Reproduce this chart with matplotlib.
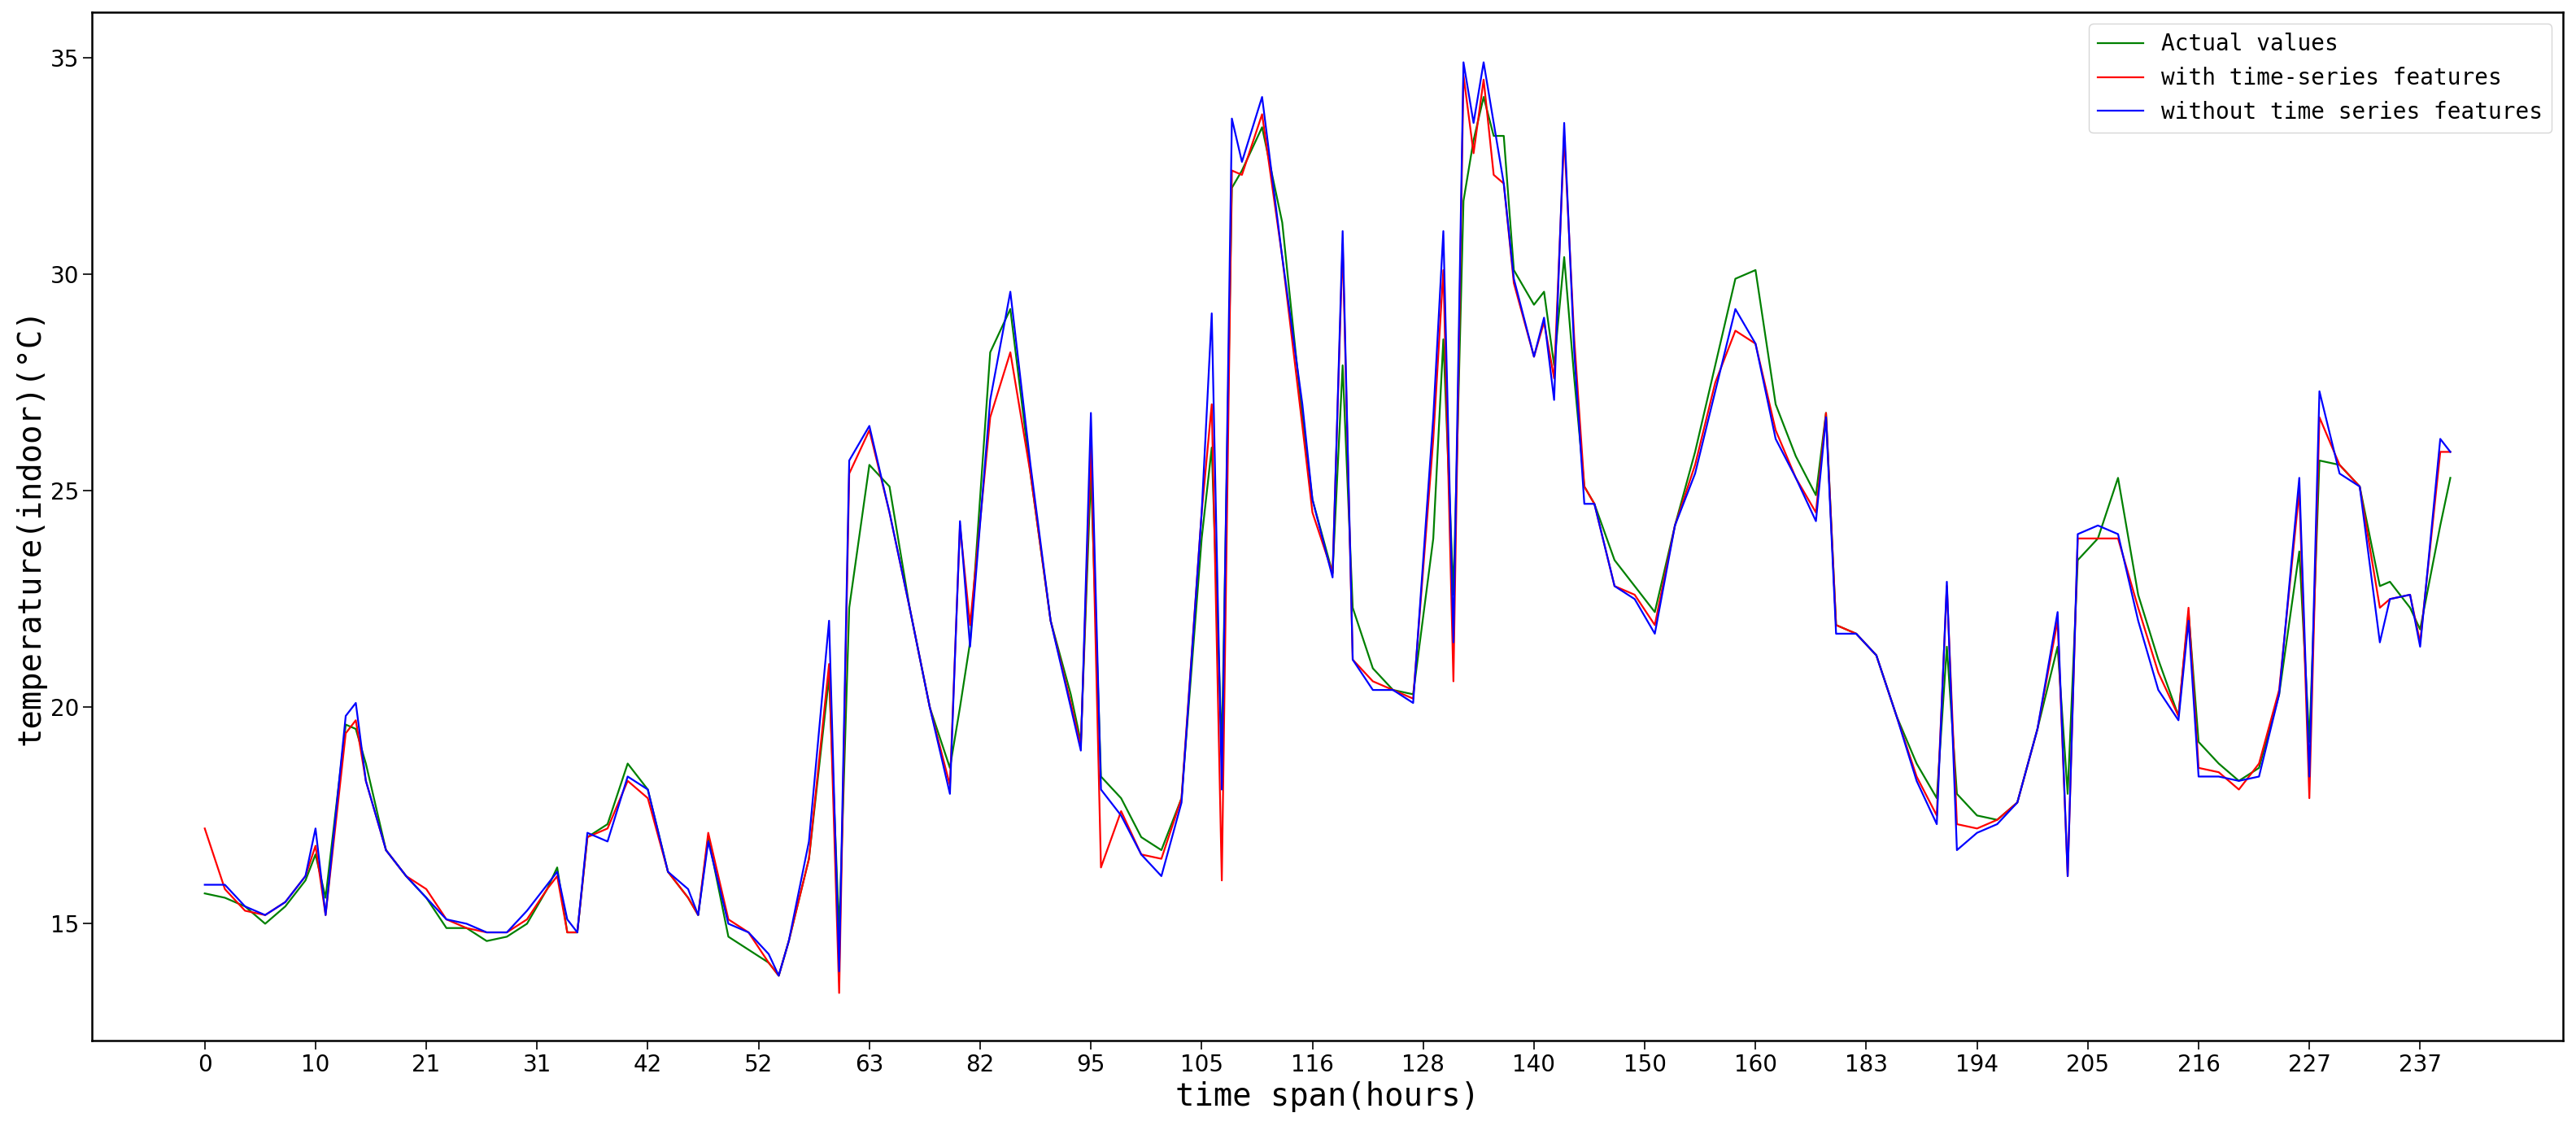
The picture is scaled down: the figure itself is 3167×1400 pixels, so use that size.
import matplotlib
matplotlib.use("Agg")
import matplotlib.pyplot as plt

# sample index (hour step) and temperatures
step = [0, 2, 4, 6, 8, 10, 11, 12, 14, 15, 16, 18, 20, 22, 24, 26, 28, 30, 32, 34, 35, 36, 37, 38, 40,
        42, 44, 46, 48, 49, 50, 52, 54, 56, 57, 58, 60, 62, 63, 64, 66, 68, 70, 72, 74, 75, 76, 78, 80,
        82, 84, 86, 87, 88, 89, 91, 93, 95, 97, 99, 100, 101, 102, 103, 105, 107, 109, 110, 112, 113,
        114, 116, 118, 120, 122, 123, 124, 125, 126, 127, 128, 129, 130, 132, 133, 134, 135, 136, 137,
        138, 140, 142, 144, 146, 148, 150, 152, 154, 156, 158, 160, 161, 162, 164, 166, 168, 170, 172,
        173, 174, 176, 178, 180, 182, 184, 185, 186, 188, 190, 192, 194, 196, 197, 198, 200, 202, 204,
        206, 208, 209, 210, 212, 214, 216, 217, 219, 220, 222, 223]

actual = [15.7, 15.6, 15.4, 15.0, 15.4, 16.0, 16.6, 15.6, 19.6, 19.5, 18.7, 16.7, 16.1, 15.6, 14.9, 14.9,
          14.6, 14.7, 15.0, 15.8, 16.3, 14.8, 14.8, 17.0, 17.3, 18.7, 18.1, 16.2, 15.6, 15.2, 17.0, 14.7,
          14.4, 14.1, 13.8, 14.6, 16.5, 20.7, 14.8, 22.3, 25.6, 25.1, 22.3, 20.0, 18.6, 20.0, 21.5, 28.2,
          29.2, 25.4, 22.0, 20.3, 19.2, 25.4, 18.4, 17.9, 17.0, 16.7, 17.9, 23.9, 26.0, 19.0, 32.0, 32.4,
          33.4, 31.2, 26.7, 24.8, 23.1, 27.9, 22.3, 20.9, 20.4, 20.3, 23.9, 28.5, 22.6, 31.7, 33.1, 34.1,
          33.2, 33.2, 30.1, 29.3, 29.6, 27.9, 30.4, 27.6, 25.1, 24.7, 23.4, 22.8, 22.2, 24.2, 25.9, 27.9,
          29.9, 30.1, 27.0, 25.8, 24.9, 26.8, 21.9, 21.7, 21.2, 19.8, 18.7, 17.9, 21.4, 18.0, 17.5, 17.4,
          17.8, 19.5, 21.4, 18.0, 23.4, 23.9, 25.3, 22.6, 21.1, 19.8, 22.2, 19.2, 18.7, 18.3, 18.6, 20.3,
          23.6, 19.2, 25.7, 25.6, 25.1, 22.8, 22.9, 22.3, 21.8, 24.2, 25.3]

with_ts = [17.2, 15.8, 15.3, 15.2, 15.5, 16.1, 16.8, 15.2, 19.4, 19.7, 18.3, 16.7, 16.1, 15.8, 15.1, 14.9,
           14.8, 14.8, 15.1, 15.8, 16.1, 14.8, 14.8, 17.0, 17.2, 18.3, 17.9, 16.2, 15.6, 15.2, 17.1, 15.1,
           14.8, 14.1, 13.8, 14.6, 16.5, 21.0, 13.4, 25.4, 26.4, 24.5, 22.3, 20.0, 18.2, 24.2, 21.9, 26.7,
           28.2, 25.4, 22.0, 20.1, 19.1, 26.1, 16.3, 17.6, 16.6, 16.5, 17.9, 24.5, 27.0, 16.0, 32.4, 32.3,
           33.7, 30.4, 26.5, 24.5, 23.1, 30.7, 21.1, 20.6, 20.4, 20.2, 26.2, 30.1, 20.6, 34.6, 32.8, 34.5,
           32.3, 32.1, 29.8, 28.1, 28.9, 27.6, 33.2, 28.5, 25.1, 24.7, 22.8, 22.6, 21.9, 24.2, 25.6, 27.5,
           28.7, 28.4, 26.4, 25.3, 24.5, 26.8, 21.9, 21.7, 21.2, 19.8, 18.4, 17.5, 22.8, 17.3, 17.2, 17.4,
           17.8, 19.5, 22.0, 16.1, 23.9, 23.9, 23.9, 22.3, 20.8, 19.8, 22.3, 18.6, 18.5, 18.1, 18.7, 20.4,
           25.0, 17.9, 26.7, 25.6, 25.1, 22.3, 22.5, 22.6, 21.5, 25.9, 25.9]

without_ts = [15.9, 15.9, 15.4, 15.2, 15.5, 16.1, 17.2, 15.2, 19.8, 20.1, 18.3, 16.7, 16.1, 15.6, 15.1, 15.0,
              14.8, 14.8, 15.3, 15.9, 16.2, 15.1, 14.8, 17.1, 16.9, 18.4, 18.1, 16.2, 15.8, 15.2, 16.9, 15.0,
              14.8, 14.3, 13.8, 14.6, 16.9, 22.0, 13.9, 25.7, 26.5, 24.5, 22.3, 20.0, 18.0, 24.3, 21.4, 27.1,
              29.6, 25.6, 22.0, 20.0, 19.0, 26.8, 18.1, 17.5, 16.6, 16.1, 17.8, 24.5, 29.1, 18.1, 33.6, 32.6,
              34.1, 30.4, 27.0, 24.8, 23.0, 31.0, 21.1, 20.4, 20.4, 20.1, 26.7, 31.0, 21.5, 34.9, 33.5, 34.9,
              33.5, 32.1, 29.9, 28.1, 29.0, 27.1, 33.5, 28.2, 24.7, 24.7, 22.8, 22.5, 21.7, 24.2, 25.4, 27.3,
              29.2, 28.4, 26.2, 25.3, 24.3, 26.7, 21.7, 21.7, 21.2, 19.8, 18.3, 17.3, 22.9, 16.7, 17.1, 17.3,
              17.8, 19.5, 22.2, 16.1, 24.0, 24.2, 24.0, 22.0, 20.4, 19.7, 22.0, 18.4, 18.4, 18.3, 18.4, 20.3,
              25.3, 18.4, 27.3, 25.4, 25.1, 21.5, 22.5, 22.6, 21.4, 26.2, 25.9]

tick_pos = [0, 11, 22, 33, 44, 55, 66, 77, 88, 99, 110, 121, 132, 143, 154, 165, 176, 187, 198, 209, 220]
tick_labels = ["0", "10", "21", "31", "42", "52", "63", "82", "95", "105", "116", "128", "140", "150",
               "160", "183", "194", "205", "216", "227", "237"]

fig = plt.figure(figsize=(31.67, 14), dpi=100)
ax = fig.add_axes([0.0357, 0.0864, 0.9593, 0.9026])

ax.plot(step, actual, color="green", lw=1.6, label="Actual values")
ax.plot(step, with_ts, color="red", lw=1.6, label="with time-series features")
ax.plot(step, without_ts, color="blue", lw=1.6, label="without time series features")

ax.set_xticks(tick_pos)
ax.set_xticklabels(tick_labels)
ax.set_yticks([15, 20, 25, 30, 35])
ax.set_ylim(12.3, 36.05)
ax.set_xlim(-11.2, 234.2)
ax.tick_params(labelsize=20, length=8, width=1.2)
for s in ax.spines.values():
    s.set_linewidth(1.8)

ax.set_xlabel("time span(hours)", fontsize=28, family="DejaVu Sans Mono")
ax.set_ylabel("temperature(indoor)(\u00b0C)", fontsize=28, family="DejaVu Sans Mono")
ax.legend(loc="upper right", prop={"family": "DejaVu Sans Mono", "size": 20})

fig.savefig("out.png", dpi=100)
